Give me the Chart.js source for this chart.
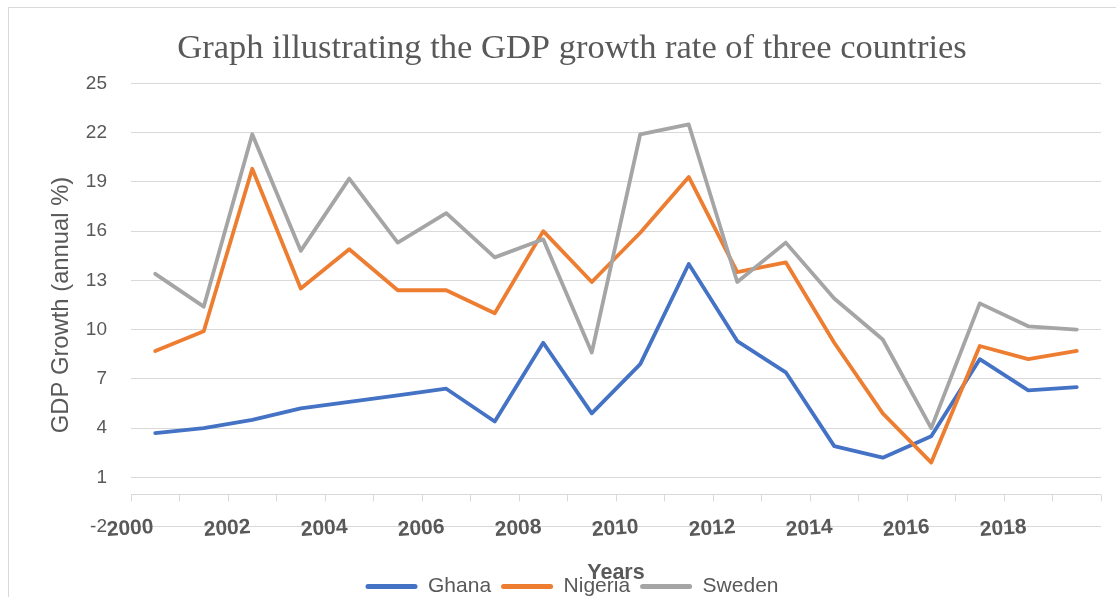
<!DOCTYPE html>
<html>
<head>
<meta charset="utf-8">
<script src="https://cdn.jsdelivr.net/npm/chart.js@4/dist/chart.umd.min.js"></script>
<style>
  html, body { margin: 0; padding: 0; background: #fff; overflow: hidden; }
  #frame { position: absolute; left: 8px; top: 7px; width: 1126px; height: 600px; border: 1px solid #d9d9d9; }
  canvas { display: block; }
</style>
</head>
<body>
<div id="frame"><canvas id="gdpChart" width="1126" height="600"></canvas></div>
<script>
// GDP growth (annual %), stacked series
const years = [2000, 2001, 2002, 2003, 2004, 2005, 2006, 2007, 2008, 2009,
               2010, 2011, 2012, 2013, 2014, 2015, 2016, 2017, 2018, 2019];
const ghana   = [3.7, 4.0, 4.5, 5.2, 5.6, 6.0, 6.4, 4.4, 9.2, 4.9, 7.9, 14.0, 9.3, 7.4, 2.9, 2.2, 3.5, 8.2, 6.3, 6.5];
const nigeria = [5.0, 5.9, 15.3, 7.3, 9.3, 6.4, 6.0, 6.6, 6.8, 8.0, 8.0, 5.3, 4.2, 6.7, 6.3, 2.7, -1.6, 0.8, 1.9, 2.2];
const sweden  = [4.7, 1.5, 2.1, 2.3, 4.3, 2.9, 4.7, 3.4, -0.5, -4.3, 6.0, 3.2, -0.6, 1.2, 2.7, 4.5, 2.1, 2.6, 2.0, 1.3];

const TEXT = "#595959";
const GRID = "#d9d9d9";

Chart.defaults.font.family = "'Liberation Sans', Arial, sans-serif";
Chart.defaults.color = TEXT;

// horizontal axis line crossing at 0, with tick marks between categories
const zeroAxis = {
  id: "zeroAxis",
  beforeDatasetsDraw(chart) {
    const { ctx, scales: { x, y } } = chart;
    const y0 = Math.round(y.getPixelForValue(0)) + 0.5;
    ctx.save();
    ctx.strokeStyle = GRID;
    ctx.lineWidth = 1;
    ctx.beginPath();
    ctx.moveTo(x.left, y0);
    ctx.lineTo(x.right, y0);
    for (let i = 0; i <= years.length; i++) {
      const px = Math.round(x.getPixelForValue(i - 0.5)) + 0.5;
      ctx.moveTo(px, y0);
      ctx.lineTo(px, y0 + 7);
    }
    ctx.stroke();
    ctx.restore();
  }
};

// draw the series first-to-last so later ones sit on top
const seriesOrder = {
  id: "seriesOrder",
  beforeDatasetDraw() {
    return false;
  },
  afterDatasetsDraw(chart) {
    chart.data.datasets.forEach((d, i) => {
      const meta = chart.getDatasetMeta(i);
      if (!meta.hidden) meta.controller.draw();
    });
  }
};

function series(label, data, color) {
  return {
    label,
    data,
    borderColor: color,
    backgroundColor: color,
    borderWidth: 3.8,
    borderJoinStyle: "round",
    borderCapStyle: "round",
    pointRadius: 0,
    tension: 0,
    fill: false
  };
}

new Chart(document.getElementById("gdpChart"), {
  type: "line",
  data: {
    labels: years,
    datasets: [
      series("Ghana", ghana, "#4472C4"),
      series("Nigeria", nigeria, "#ED7D31"),
      series("Sweden", sweden, "#A5A5A5")
    ]
  },
  options: {
    responsive: false,
    animation: false,
    layout: { padding: { left: 0, right: 0, top: 0, bottom: 1 } },
    plugins: {
      title: {
        display: true,
        text: "Graph illustrating the GDP growth rate of three countries",
        color: TEXT,
        font: { family: "'Liberation Serif', 'Times New Roman', serif", size: 34.5, weight: "normal" },
        padding: { top: 20, bottom: 14 }
      },
      legend: {
        position: "bottom",
        labels: {
          boxWidth: 52,
          boxHeight: 5,
          padding: 10,
          color: TEXT,
          font: { size: 21 },
          useBorderRadius: true,
          borderRadius: 2.5,
          generateLabels(chart) {
            const items = Chart.defaults.plugins.legend.labels.generateLabels(chart);
            items.forEach((it) => { it.lineWidth = 0; });
            return items;
          }
        }
      },
      tooltip: { enabled: false }
    },
    scales: {
      x: {
        offset: true,
        grid: { display: false, drawTicks: false },
        border: { display: false },
        ticks: {
          autoSkip: false,
          minRotation: 4,
          maxRotation: 4,
          // mirrored so the year labels can sit across the bottom gridline
          mirror: true,
          padding: -13,
          color: TEXT,
          font: { size: 21, weight: "bold" },
          callback: (v, i) => (i % 2 === 0 ? String(years[i]) : "")
        },
        title: {
          display: true,
          text: "Years",
          color: TEXT,
          font: { size: 21.5, weight: "bold" },
          padding: { top: 60, bottom: -20.4 }
        }
      },
      y: {
        stacked: "single",
        min: -2,
        max: 25,
        grid: { color: GRID, lineWidth: 1, drawTicks: false },
        border: { display: false },
        ticks: { stepSize: 3, padding: 24, color: TEXT, font: { size: 19 } },
        title: {
          display: true,
          text: "GDP Growth (annual %)",
          color: TEXT,
          font: { size: 23.8 },
          padding: { top: 37.7, bottom: -13.4 }
        }
      },
      // empty margin on the right of the plot
      yRight: {
        position: "right",
        grid: { display: false, drawTicks: false },
        border: { display: false },
        ticks: { display: false },
        afterFit(scale) {
          scale.width = 34;
        }
      }
    }
  },
  plugins: [zeroAxis, seriesOrder]
});
</script>
</body>
</html>
